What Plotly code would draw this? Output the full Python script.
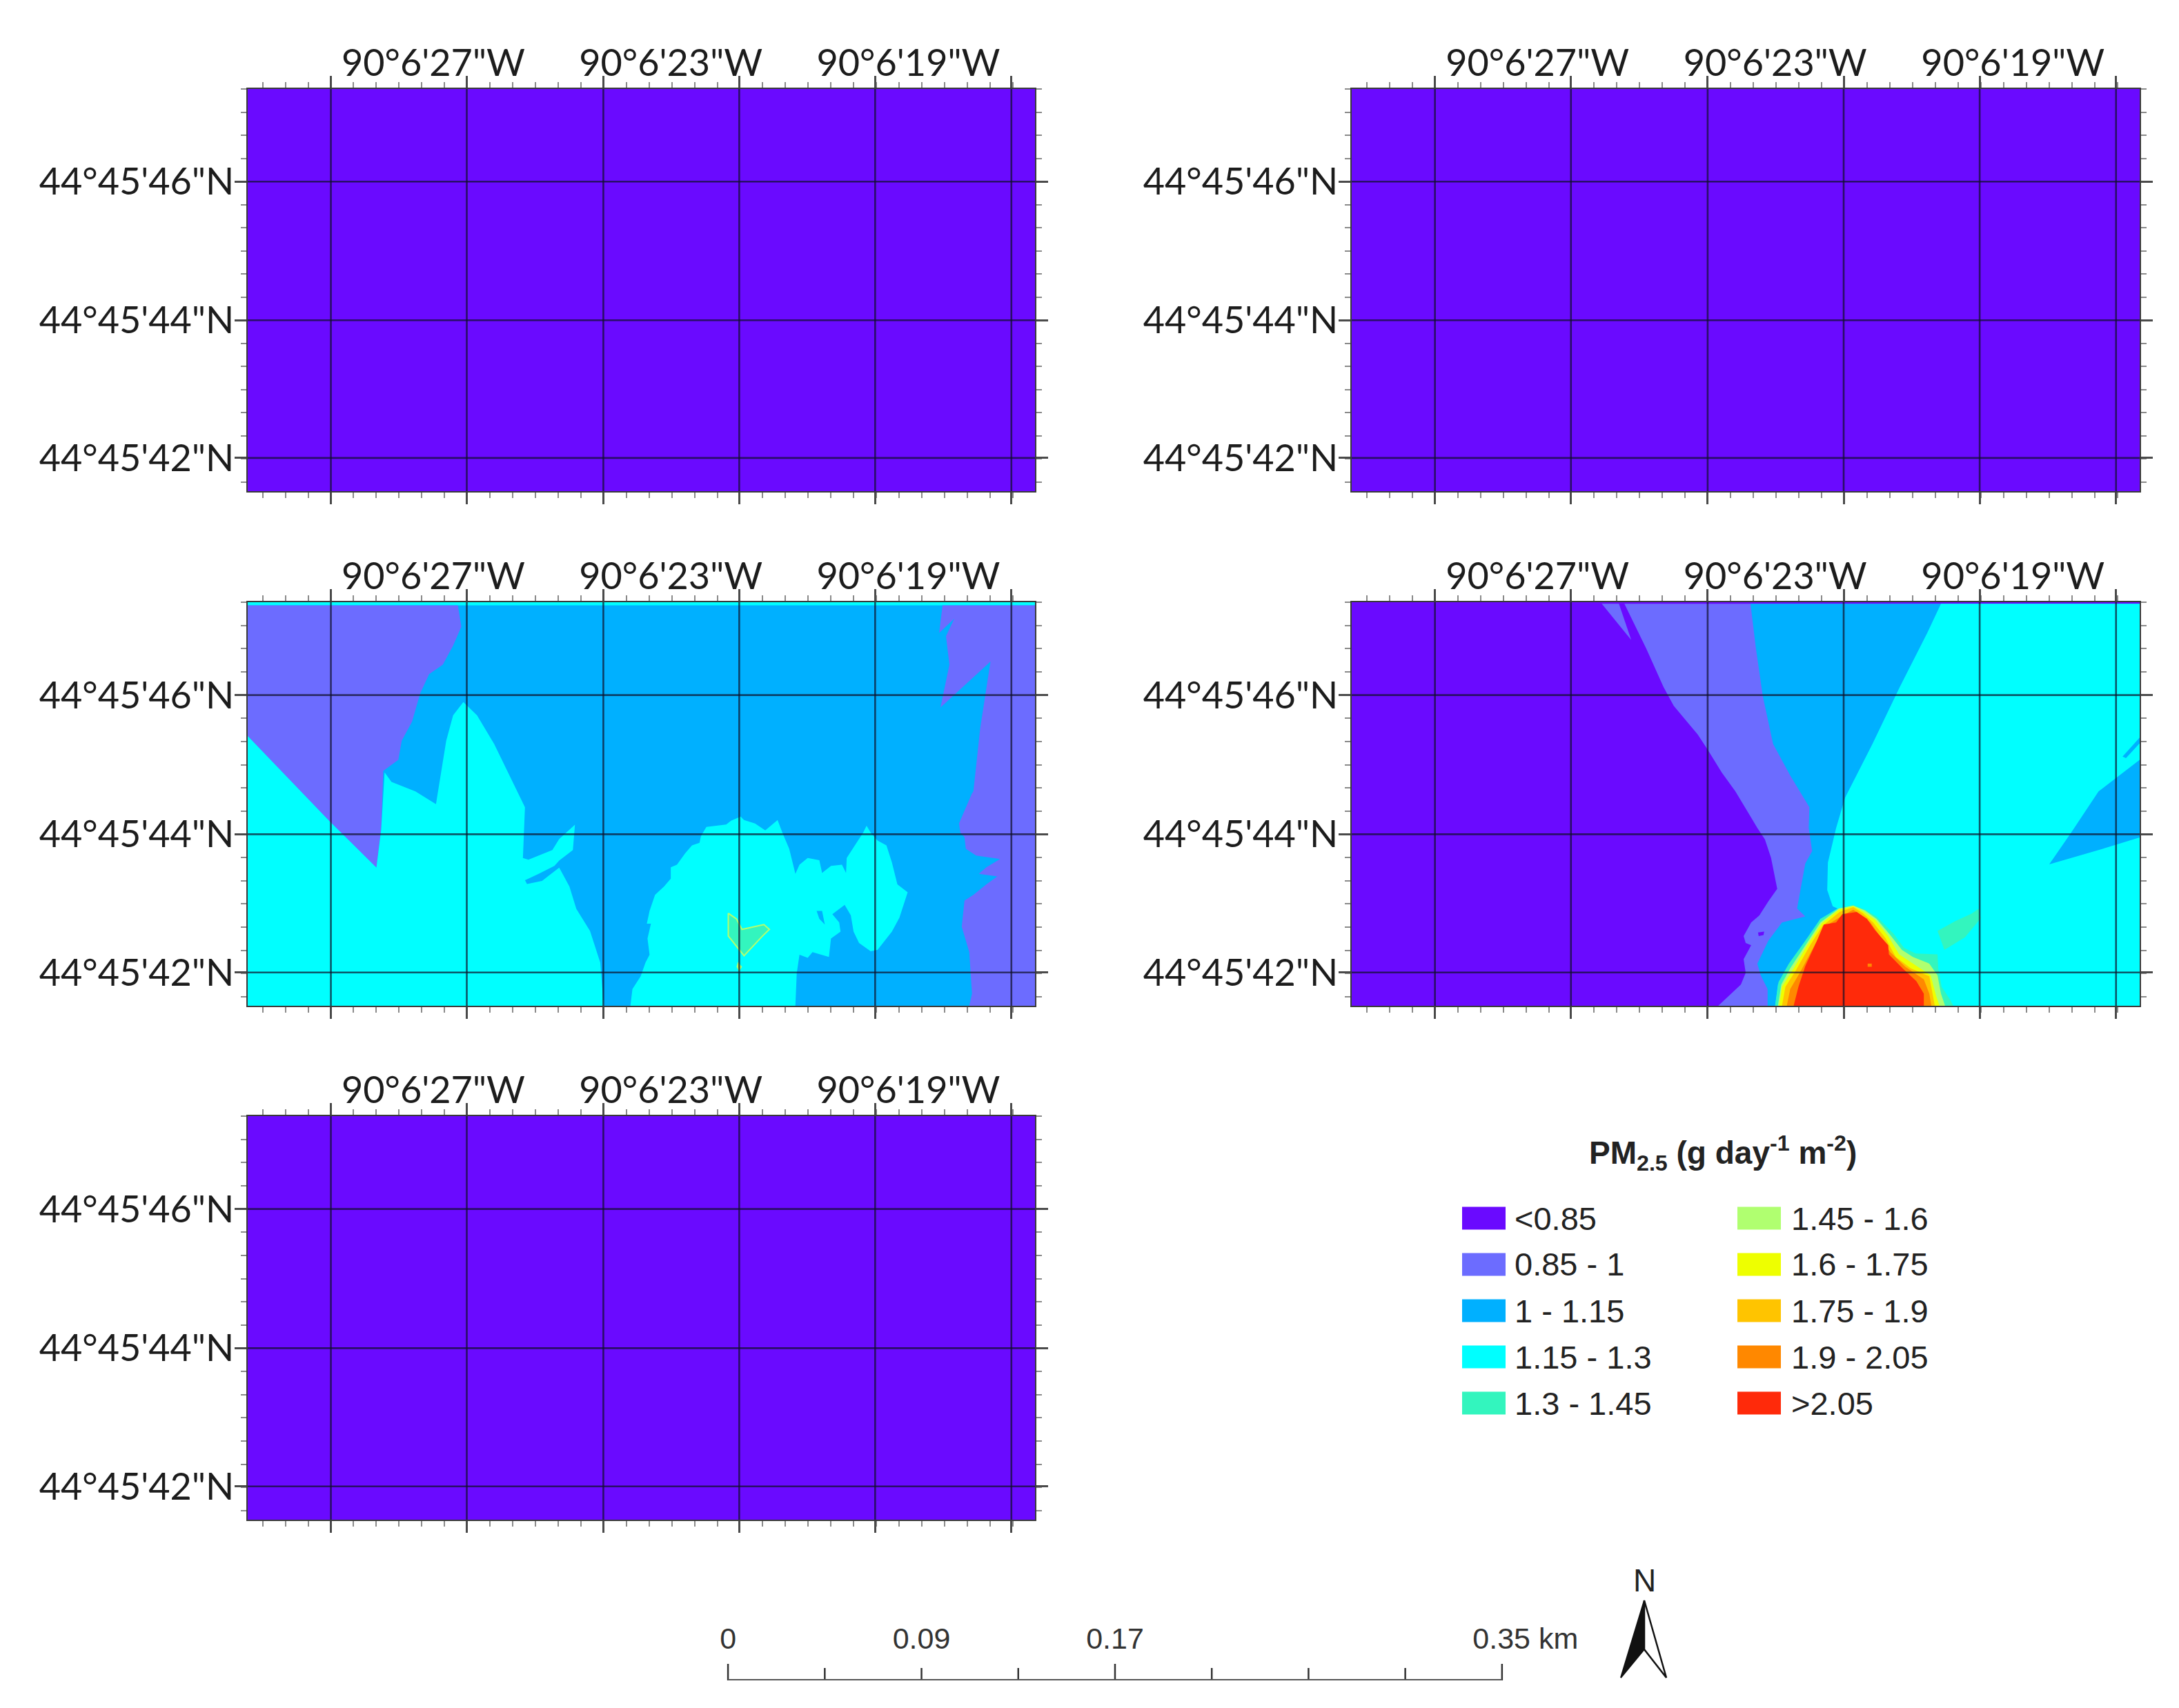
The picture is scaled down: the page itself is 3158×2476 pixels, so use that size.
import numpy as np
import plotly.graph_objects as go

W, H = 3158, 2476

CLASSES = ["<0.85", "0.85 - 1", "1 - 1.15", "1.15 - 1.3", "1.3 - 1.45",
           "1.45 - 1.6", "1.6 - 1.75", "1.75 - 1.9", "1.9 - 2.05", ">2.05"]
COLORS = ["#6A0AFF", "#6C6CFF", "#00B0FF", "#00FFFF", "#33F5BE",
          "#B0FF70", "#EEFF00", "#FFC400", "#FF8800", "#FF2A0A"]

LON_LABELS = ["90°6'27\"W", "90°6'23\"W", "90°6'19\"W"]
LON_LABEL_POS = [271, 618, 965]
LAT_LABELS = ["44°45'46\"N", "44°45'44\"N", "44°45'42\"N"]
GRID_X = [121.5, 320, 519.5, 718, 916.5, 1115.5]
GRID_Y = [293, 732, 1168]
MAP_W, MAP_H = 1150, 1273
FULL_MAP = [(0, 0), (MAP_W, 0), (MAP_W, MAP_H), (0, MAP_H)]

# Concentration class regions, in map units
C_TOP_STRIP = [(0, 0), (1150, 0), (1150, 10), (0, 10)]
C_WEST_085 = [(0, 10), (307, 10), (312, 77), (300, 137), (285, 197), (265, 227), (252, 287), (240, 377),
              (225, 437), (220, 497), (198, 532), (195, 717), (188, 837), (120, 692), (60, 557), (0, 422)]
C_WEST_115 = [(0, 422), (60, 557), (120, 692), (188, 837), (195, 717), (200, 537), (210, 567), (245, 597),
              (275, 637), (290, 437), (300, 357), (315, 315), (335, 357), (360, 447), (385, 557), (405, 647),
              (402, 807), (410, 812), (445, 782), (455, 747), (478, 702), (475, 782), (455, 815), (448, 832),
              (425, 857), (405, 877), (408, 889), (430, 879), (455, 837), (470, 897), (480, 967), (500, 1037),
              (515, 1137), (520, 1273), (0, 1273)]
C_MID_115 = [(559, 1273), (562, 1220), (574, 1180), (581, 1137), (587, 1112), (584, 1061), (589, 1014), (583, 1014),
             (587, 974), (595, 923), (608, 897), (618, 872), (618, 836), (627, 828), (639, 792), (649, 767),
             (660, 759), (662, 738), (670, 709), (699, 701), (706, 689), (720, 676), (725, 687), (741, 698),
             (756, 720), (774, 687), (781, 727), (791, 778), (800, 857), (806, 828), (818, 807), (835, 814),
             (839, 854), (852, 832), (868, 828), (874, 854), (875, 807), (899, 727), (904, 705), (910, 727),
             (920, 752), (933, 767), (941, 821), (949, 890), (964, 915), (952, 995), (941, 1039), (920, 1097),
             (910, 1101), (893, 1075), (885, 1039), (881, 988), (872, 955), (854, 984), (864, 1010), (866, 1039),
             (852, 1061), (849, 1119), (825, 1104), (818, 1122), (806, 1112), (802, 1170), (800, 1273)]
C_SPECK_100 = [(831, 974), (839, 974), (843, 1017), (835, 999)]
C_EAST_085 = [(1054, 1273), (1058, 1235), (1054, 1104), (1043, 1024), (1047, 941), (1060, 923), (1079, 890),
              (1095, 865), (1068, 857), (1079, 836), (1099, 810), (1064, 799), (1049, 778), (1047, 741), (1041, 727),
              (1039, 698), (1058, 603), (1060, 597), (1065, 497), (1070, 397), (1085, 187), (1012, 332), (1025, 197),
              (1020, 107), (1032, 52), (1010, 97), (1015, 10), (1150, 10), (1150, 1273)]
C_PATCH_13 = [(702, 981), (714, 999), (722, 1032), (754, 1017), (762, 1032), (752, 1053), (725, 1115), (702, 1053)]
C_SPECK_145 = [(716, 1135), (722, 1150), (718, 1165), (714, 1150)]

D_MAIN_085 = [(398, 5), (430, 147), (455, 267), (470, 327), (505, 417), (520, 467), (540, 537), (560, 597),
              (592, 712), (603, 748), (612, 806), (617, 864), (621, 904), (608, 944), (595, 988), (583, 1010),
              (572, 1053), (575, 1075), (583, 1082), (572, 1126), (575, 1169), (568, 1206), (535, 1273),
              (1150, 1273), (1150, 5)]
D_SLIVER_085 = [(365, 5), (390, 5), (408, 119)]
D_SPECK_LOW = [(593, 1042), (602, 1039), (601, 1050), (594, 1053)]
D_MAIN_100 = [(582, 5), (590, 147), (600, 297), (615, 447), (640, 547), (668, 647), (667, 712), (672, 785),
              (662, 824), (657, 886), (650, 966), (662, 991), (628, 1010), (608, 1068), (592, 1140), (597, 1177),
              (607, 1220), (607, 1273), (1150, 1273), (1150, 5)]
D_MAIN_115 = [(860, 5), (840, 97), (800, 267), (760, 447), (720, 617), (707, 712), (699, 785), (695, 821),
              (694, 908), (702, 959), (709, 966), (685, 999), (662, 1075), (639, 1140), (622, 1206), (618, 1273),
              (1150, 1273), (1150, 5)]
D_WEDGE_100 = [(1150, 497), (1090, 597), (1050, 727), (1018, 827), (1090, 782), (1150, 742)]
D_THIN_100 = [(1125, 487), (1150, 427), (1150, 445), (1130, 492)]
D_PATCH_13 = [(855, 1037), (880, 1007), (905, 982), (915, 967), (918, 997), (895, 1057), (865, 1097), (860, 1067)]
D_HOT_13 = [(618, 1273), (623, 1198), (638, 1140), (662, 1068), (684, 999), (711, 965), (732, 955), (749, 970),
            (766, 991), (791, 1046), (806, 1090), (823, 1108), (855, 1111), (856, 1155), (861, 1213), (873, 1253),
            (878, 1273)]
D_HOT_145 = [(622, 1273), (627, 1206), (640, 1155), (662, 1082), (684, 1010), (711, 966), (732, 957), (749, 972),
             (766, 999), (786, 1050), (803, 1097), (819, 1119), (843, 1140), (855, 1177), (860, 1235), (866, 1273)]
D_HOT_16 = [(624, 1273), (628, 1213), (643, 1162), (665, 1082), (686, 1013), (711, 970), (732, 959), (746, 975),
            (764, 1002), (783, 1053), (799, 1111), (819, 1140), (845, 1177), (853, 1242), (858, 1273)]
D_HOT_175 = [(628, 1273), (633, 1213), (647, 1166), (669, 1082), (687, 1021), (712, 977), (732, 962), (746, 981),
             (761, 1010), (779, 1060), (794, 1119), (816, 1155), (843, 1180), (848, 1242), (851, 1273)]
D_HOT_19 = [(635, 1273), (640, 1220), (654, 1169), (674, 1090), (690, 1024), (714, 991), (732, 970), (742, 984),
            (757, 1010), (771, 1053), (786, 1104), (808, 1150), (835, 1190), (843, 1235), (846, 1273)]
D_HOT_205 = [(645, 1273), (652, 1213), (662, 1148), (679, 1068), (689, 1017), (707, 1010), (716, 984), (737, 977),
             (752, 999), (764, 1035), (783, 1082), (784, 1111), (804, 1155), (824, 1195), (835, 1235), (835, 1273)]
D_SPECK_19 = [(753, 1140), (759, 1140), (759, 1150), (753, 1150)]

PANEL_A = [(0, FULL_MAP)]
PANEL_B = [(0, FULL_MAP)]
PANEL_C = [(2, FULL_MAP), (3, C_TOP_STRIP), (1, C_WEST_085), (3, C_WEST_115), (3, C_MID_115), (2, C_SPECK_100),
           (1, C_EAST_085), (4, C_PATCH_13), (5, C_SPECK_145)]
PANEL_D = [(0, FULL_MAP), (1, D_MAIN_085), (1, D_SLIVER_085), (0, D_SPECK_LOW), (2, D_MAIN_100), (3, D_MAIN_115),
           (2, D_WEDGE_100), (2, D_THIN_100), (4, D_PATCH_13), (4, D_HOT_13), (5, D_HOT_145), (6, D_HOT_16),
           (7, D_HOT_175), (8, D_HOT_19), (9, D_HOT_205), (8, D_SPECK_19)]
PANEL_E = [(0, FULL_MAP)]

PANELS = [(359, 1500, 129, 712, PANEL_A), (1959, 3101, 129, 712, PANEL_B),
          (359, 1500, 873, 1458, PANEL_C), (1959, 3101, 873, 1458, PANEL_D),
          (359, 1500, 1618, 2203, PANEL_E)]

SCALE_KM_MAJOR = [0, 0.175, 0.35]
SCALE_KM_MINOR = [0.04375, 0.0875, 0.13125, 0.21875, 0.2625, 0.30625]
SCALE_LABELS = ["0", "0.09", "0.17", "0.35 km"]
SCALE_LABEL_KM = [0, 0.0875, 0.175, 0.3606]

AXIS_FONT = dict(family="Lato", size=54, color="#1c1c1c")
SANS = "Liberation Sans"

fig = go.Figure()
layout = dict(width=W, height=H, margin=dict(l=0, r=0, t=0, b=0), paper_bgcolor="white", plot_bgcolor="white",
              showlegend=False, hovermode=False)


def dom_x(a, b):
    return [a / W, b / W]


def dom_y(top, bottom):
    return [1 - bottom / H, 1 - top / H]


minor_x = np.arange(GRID_X[0] - 3 * 33.2, MAP_W, 33.2)
minor_y = np.arange(GRID_Y[0] - 4 * 73.2, MAP_H, 73.2)
n_panels = len(PANELS)
for i, (x0, x1, top, bottom, polys) in enumerate(PANELS):
    xa, ya = f"x{i + 1}", f"y{i + 1}"
    xo = f"x{n_panels + i + 1}"
    for cls, pts in polys:
        edge = dict(width=2, color=COLORS[5]) if pts is C_PATCH_13 else dict(width=0, color=COLORS[cls])
        fig.add_trace(go.Scatter(x=[p[0] for p in pts] + [pts[0][0]], y=[p[1] for p in pts] + [pts[0][1]],
                                 mode="lines", fill="toself", fillcolor=COLORS[cls],
                                 line=edge, xaxis=xa, yaxis=ya, hoverinfo="skip"))
    gx, gy = [], []
    for v in GRID_X:
        gx += [v, v, None]
        gy += [0, MAP_H, None]
    for v in GRID_Y:
        gx += [0, MAP_W, None]
        gy += [v, v, None]
    fig.add_trace(go.Scatter(x=gx, y=gy, mode="lines", line=dict(color="rgba(15,15,40,0.7)", width=2.6),
                             xaxis=xa, yaxis=ya, hoverinfo="skip"))
    fig.add_trace(go.Scatter(x=LON_LABEL_POS, y=[0, 0, 0], mode="markers", marker=dict(opacity=0),
                             xaxis=xo, yaxis=ya, hoverinfo="skip"))
    common = dict(showgrid=False, zeroline=False, showline=True, linecolor="#3a3a3a", linewidth=2, mirror="ticks",
                  ticks="outside", ticklen=17, tickwidth=2.5, tickcolor="#4a4a4a")
    layout[f"xaxis{i + 1}"] = dict(domain=dom_x(x0, x1), range=[0, MAP_W], anchor=ya, side="bottom",
                                   tickmode="array", tickvals=GRID_X, showticklabels=False,
                                   minor=dict(tickmode="array", tickvals=[float(v) for v in minor_x], ticks="outside",
                                              ticklen=8, tickwidth=2, tickcolor="#8a8a8a"), **common)
    layout[f"yaxis{i + 1}"] = dict(domain=dom_y(top, bottom), range=[MAP_H, 0], anchor=xa, side="left",
                                   tickmode="array", tickvals=GRID_Y, ticktext=LAT_LABELS, tickfont=AXIS_FONT,
                                   ticklabelstandoff=-10,
                                   minor=dict(tickmode="array", tickvals=[float(v) for v in minor_y], ticks="outside",
                                              ticklen=8, tickwidth=2, tickcolor="#8a8a8a"), **common)
    layout[f"xaxis{n_panels + i + 1}"] = dict(overlaying=xa, range=[0, MAP_W], anchor=ya, side="top", showgrid=False,
                                              zeroline=False, showline=False, tickmode="array",
                                              tickvals=LON_LABEL_POS, ticktext=LON_LABELS, tickfont=AXIS_FONT,
                                              ticks="", ticklabelstandoff=7)

# Scale bar on its own km axis (range padded so that its labels stay inside)
sx, sy = "x20", "y20"
layout["xaxis20"] = dict(domain=dom_x(991, 2273), range=[-0.02, 0.38], anchor=sy, visible=False)
layout["yaxis20"] = dict(domain=dom_y(2352, 2436), range=[0, 3.5], anchor=sx, visible=False)
tx, ty = [], []
for v in SCALE_KM_MAJOR:
    tx += [v, v, None]
    ty += [0, 1, None]
for v in SCALE_KM_MINOR:
    tx += [v, v, None]
    ty += [0, 0.75, None]
fig.add_trace(go.Scatter(x=tx, y=ty, mode="lines", line=dict(color="#333", width=2.5), xaxis=sx, yaxis=sy,
                         cliponaxis=False, hoverinfo="skip"))
fig.add_trace(go.Scatter(x=[0, 0.35], y=[0, 0], mode="lines", line=dict(color="#555", width=4), xaxis=sx, yaxis=sy,
                         cliponaxis=False, hoverinfo="skip"))
fig.add_trace(go.Scatter(x=SCALE_LABEL_KM, y=[2.35] * 4, mode="text", text=SCALE_LABELS, textposition="middle center",
                         textfont=dict(family=SANS, size=43, color="#333"), xaxis=sx, yaxis=sy, cliponaxis=False,
                         hoverinfo="skip"))


def px(x):
    return x / W


def py(y):
    return 1 - y / H


shapes, annotations = [], []
LEGEND_ROWS = [1766, 1833, 1900, 1967, 2034]
LEGEND_COLS = [(2119, 2193), (2518, 2594)]
for k, (label, color) in enumerate(zip(CLASSES, COLORS)):
    col = k // 5
    row = k % 5
    sw, tx0 = LEGEND_COLS[col]
    yc = LEGEND_ROWS[row]
    shapes.append(dict(type="rect", xref="paper", yref="paper", x0=px(sw), x1=px(sw + 63), y0=py(yc - 16.5),
                       y1=py(yc + 16.5), fillcolor=color, line=dict(width=0)))
    annotations.append(dict(xref="paper", yref="paper", x=px(tx0), y=py(yc), text=label, showarrow=False,
                            xanchor="left", yanchor="middle",
                            font=dict(family=SANS, size=47, color="#222")))
annotations.append(dict(xref="paper", yref="paper", x=px(2497), y=py(1671), showarrow=False, xanchor="center",
                        yanchor="middle", text="<b>PM<sub>2.5</sub> (g day<sup>-1</sup> m<sup>-2</sup>)</b>",
                        font=dict(family=SANS, size=46, color="#222")))
annotations.append(dict(xref="paper", yref="paper", x=px(2383), y=py(2291), showarrow=False, xanchor="center",
                        yanchor="middle", text="N", font=dict(family=SANS, size=46, color="#222")))


def path(pts):
    return "M " + " L ".join(f"{px(a):.5f},{py(b):.5f}" for a, b in pts) + " Z"


shapes.append(dict(type="path", xref="paper", yref="paper", path=path([(2383, 2320), (2415, 2432), (2383, 2391)]),
                   fillcolor="white", line=dict(color="#111", width=2.5)))
shapes.append(dict(type="path", xref="paper", yref="paper", path=path([(2383, 2320), (2349, 2432), (2383, 2391)]),
                   fillcolor="#111", line=dict(color="#111", width=2)))

layout["shapes"] = shapes
layout["annotations"] = annotations
fig.update_layout(**layout)
fig.write_html("out.html", config={"displayModeBar": False},
               post_script="document.body.style.margin='0';document.body.style.overflow='hidden';")
